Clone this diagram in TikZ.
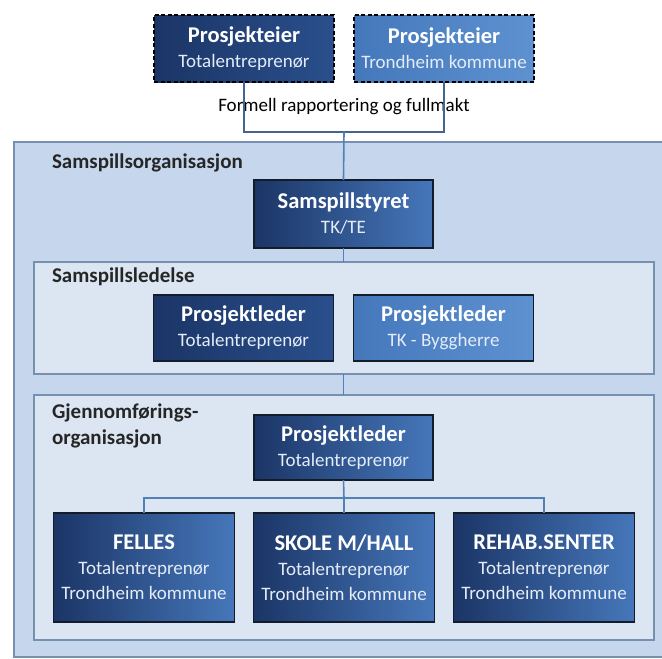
\documentclass[tikz,border=0pt]{standalone}
\usepackage{fontspec}
\setmainfont{Carlito}
\usetikzlibrary{positioning}
\definecolor{navy}{HTML}{1B3566}
\definecolor{midblue}{HTML}{4677BA}
\definecolor{deepblue}{HTML}{2A4F8C}
\definecolor{lightblue}{HTML}{4478BB}
\definecolor{paleblue}{HTML}{5E91D0}
\definecolor{orgfill}{HTML}{C5D6ED}
\definecolor{secfill}{HTML}{DCE6F2}
\definecolor{frameline}{HTML}{7690B0}
\definecolor{linkblue}{HTML}{5380B6}
\definecolor{boxline}{HTML}{141C2C}
\definecolor{subtext}{HTML}{E4ECF8}
\newcommand{\unittitle}[1]{{\fontsize{22.5}{25}\selectfont\bfseries #1}}
\newcommand{\unitsub}[1]{{\fontsize{19}{25}\selectfont\color{subtext}#1}}
\begin{document}
\begin{tikzpicture}
          [x=1pt, y=-1pt,
           every node/.style={inner sep=0pt, outer sep=0pt},
           unit/.style={draw=boxline, line width=1.2pt, align=center, text=white,
                        minimum width=180pt, minimum height=66pt,
                        font=\fontsize{19}{25}\selectfont,
                        left color=navy, right color=midblue},
           darkunit/.style={unit, left color=navy, right color=deepblue},
           lightunit/.style={unit, left color=lightblue, right color=paleblue},
           owner/.style={dashed, dash pattern=on 4pt off 2.5pt, line width=2pt, draw=black},
           frame/.style={draw=frameline, line width=1.5pt, anchor=north west},
           grouplabel/.style={anchor=west, align=left, font=\fontsize{21}{26}\selectfont\bfseries, text=black!85},
           link/.style={draw=linkblue, line width=1.6pt},
           thinlink/.style={draw=linkblue!80!black, line width=1.1pt}]
          \useasboundingbox (0,0) rectangle (662,659);

          % containers
          \node[frame, fill=orgfill, minimum width=670pt, minimum height=515pt] (org) at (14,142) {};
          \node[frame, fill=secfill, minimum width=620pt, minimum height=112pt] (ledelse) at (34,262) {};
          \node[frame, fill=secfill, minimum width=620pt, minimum height=245pt] (gjennom) at (34,395) {};

          \node[grouplabel] (orglabel) at (52,163) {Samspillsorganisasjon};
          \node[grouplabel] (ledlabel) at (52,277) {Samspillsledelse};
          \node[grouplabel, anchor=north west] (gjlabel) at (52,404) {Gjennomførings-\\organisasjon};

          % owners
          \node[darkunit, owner, minimum height=67pt] (ownTE) at (244,48.5)
               {\unittitle{Prosjekteier}\\\unitsub{Totalentreprenør}};
          \node[lightunit, owner, minimum height=67pt] (ownTK) [right = 20pt of ownTE]
               {\unittitle{Prosjekteier}\\\unitsub{Trondheim kommune}};
          \node[font=\fontsize{19}{22}\selectfont] (report) at (344,107) {Formell rapportering og fullmakt};
          \coordinate (split) at (344,132);

          % samspill
          \node[unit, minimum width=179pt, minimum height=68pt] (styret) at (343.5,214)
               {\unittitle{Samspillstyret}\\\unitsub{TK/TE}};
          \node[darkunit] (plTE) at (243.5,328) {\unittitle{Prosjektleder}\\\unitsub{Totalentreprenør}};
          \node[lightunit] (plTK) [right = 20pt of plTE] {\unittitle{Prosjektleder}\\\unitsub{TK - Byggherre}};

          % gjennomforing
          \node[unit, minimum width=179pt, minimum height=65pt] (plGj) at (343.5,447.5)
               {\unittitle{Prosjektleder}\\\unitsub{Totalentreprenør}};
          \coordinate (bus) at (344,498);
          \node[unit, minimum width=181pt, minimum height=109pt] (skole) at (344,567.5)
               {\unittitle{SKOLE M/HALL}\\\unitsub{Totalentreprenør}\\\unitsub{Trondheim kommune}};
          \node[unit, minimum width=181pt, minimum height=109pt] (felles) [left = 19pt of skole]
               {\unittitle{FELLES}\\\unitsub{Totalentreprenør}\\\unitsub{Trondheim kommune}};
          \node[unit, minimum width=181pt, minimum height=109pt] (rehab) [right = 19pt of skole]
               {\unittitle{REHAB.SENTER}\\\unitsub{Totalentreprenør}\\\unitsub{Trondheim kommune}};

          \draw[thinlink] (ownTE.south) |- (split) -| (ownTK.south);
          \draw[link] (split) -- (styret.north);
          \draw[link] (styret.south) -- (styret.south |- ledelse.north);
          \draw[link] (styret.south |- ledelse.south) -- (styret.south |- gjennom.north);
          \draw[link] (plGj.south) -- (bus);
          \draw[link] (felles.north) |- (bus) -| (rehab.north);
          \draw[link] (bus) -- (skole.north);

        \end{tikzpicture}
\end{document}
